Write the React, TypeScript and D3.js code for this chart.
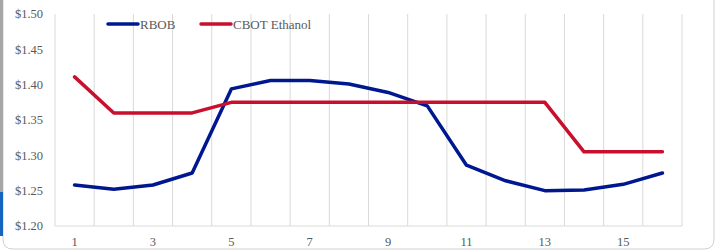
import React from 'react';
import * as d3 from 'd3';

const periods = d3.range(1, 17);
const rbob = [1.258, 1.252, 1.258, 1.275, 1.394, 1.406, 1.406, 1.401, 1.389, 1.37, 1.286, 1.264, 1.25, 1.251, 1.259, 1.275];
const ethanol = [1.411, 1.36, 1.36, 1.36, 1.375, 1.375, 1.375, 1.375, 1.375, 1.375, 1.375, 1.375, 1.375, 1.305, 1.305, 1.305];
const yTicks = [1.2, 1.25, 1.3, 1.35, 1.4, 1.45, 1.5];
const seriesNames = ['RBOB', 'CBOT Ethanol'];
const seriesColors = ['#00188f', '#c8102e'];

const width = 719;
const height = 252;
const font = '"Liberation Serif", serif';

const App = () => {
  const left = 55, right = 682, top = 14, bottom = 226;

  const x = d3.scaleBand<number>().domain(periods).range([left, right]);
  const y = d3.scaleLinear().domain([1.2, 1.5]).range([bottom, top]);

  const line = d3.line<number>()
    .x((d, i) => x(periods[i])! + x.bandwidth() / 2)
    .y(d => y(d));

  const bounds = periods.map(p => x(p)!).concat([right]);

  return (
    <svg width={width} height={height} style={{ position: 'absolute', left: 0, top: 0 }}>
      <rect x={0} y={0} width={width} height={height} fill="#fff" />
      {/* card frame */}
      <path d={`M3,-5 L3,239 Q3,249 13,249 L704,249 Q714,249 714,239 L714,-5`} fill="none" stroke="#d0d0d0" strokeWidth={1} />
      <rect x={0} y={0} width={3} height={192} fill="#a6a6a6" />
      <rect x={0} y={192} width={3} height={44} fill="#1565c0" />

      {/* vertical gridlines */}
      {bounds.map((b, i) => (
        <line key={i} x1={b} x2={b} y1={top} y2={bottom} stroke="#d9d9d9" strokeWidth={1} />
      ))}
      <line x1={left} x2={right} y1={bottom} y2={bottom} stroke="#d9d9d9" strokeWidth={1} />

      {yTicks.map(t => (
        <text key={t} x={43} y={y(t)} dy="0.35em" textAnchor="end" fontFamily={font} fontSize={12.5} fill="#595959">
          {d3.format('$.2f')(t)}
        </text>
      ))}
      {periods.filter(p => p % 2 === 1).map(p => (
        <text key={p} x={x(p)! + x.bandwidth() / 2} y={242} dy="0.35em" textAnchor="middle" fontFamily={font} fontSize={12.5} fill="#595959">
          {p}
        </text>
      ))}

      {[rbob, ethanol].map((s, i) => (
        <path key={i} d={line(s)!} fill="none" stroke={seriesColors[i]} strokeWidth={3.5} strokeLinejoin="round" strokeLinecap="round" />
      ))}

      {/* legend */}
      {seriesNames.map((n, i) => {
        const lx = i === 0 ? 108 : 201;
        return (
          <g key={n}>
            <line x1={lx} x2={lx + 30} y1={24} y2={24} stroke={seriesColors[i]} strokeWidth={3.5} strokeLinecap="round" />
            <text x={lx + 32} y={24} dy="0.35em" fontFamily={font} fontSize={13} fill="#595959">{n}</text>
          </g>
        );
      })}
    </svg>
  );
};

export default App;
